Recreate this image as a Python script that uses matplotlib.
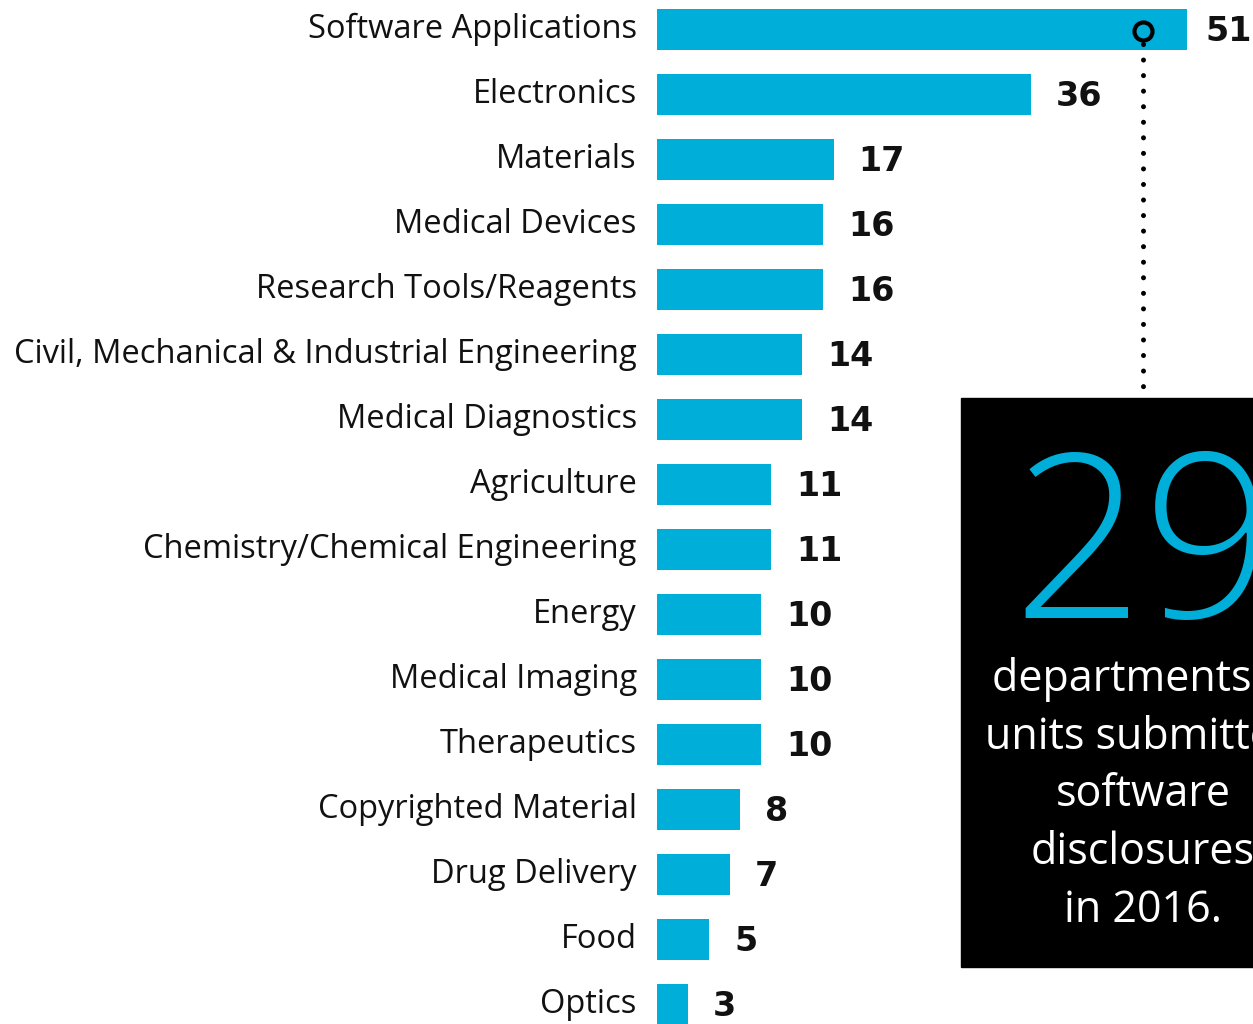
import matplotlib.pyplot as plt
from matplotlib.patches import Rectangle
from matplotlib.lines import Line2D

categories = [
    "Software Applications",
    "Electronics",
    "Materials",
    "Medical Devices",
    "Research Tools/Reagents",
    "Civil, Mechanical & Industrial Engineering",
    "Medical Diagnostics",
    "Agriculture",
    "Chemistry/Chemical Engineering",
    "Energy",
    "Medical Imaging",
    "Therapeutics",
    "Copyrighted Material",
    "Drug Delivery",
    "Food",
    "Optics",
]
values = [51, 36, 17, 16, 16, 14, 14, 11, 11, 10, 10, 10, 8, 7, 5, 3]

callout_number = "29"
callout_text = "departments &\nunits submitted\nsoftware\ndisclosures\nin 2016."

BLUE = "#00AEDA"
W, H = 1253, 1024

fig = plt.figure(figsize=(W / 100, H / 100), dpi=100)
ax = fig.add_axes([657 / W, 0, (W - 657) / W, 1])

y = list(range(len(categories)))
ax.barh(y, values, height=0.645, color=BLUE)
ax.set_xlim(0, (W - 657) / 10.39)
ax.set_ylim((1024 - 29.5) / 65.0, -29.5 / 65.0)

ax.set_yticks(y)
ax.set_yticklabels(categories, fontsize=23.5, family="Open Sans", color="#111111",
                   va="center")
ax.tick_params(axis="y", length=0, pad=14.5)
ax.set_xticks([])
for s in ax.spines.values():
    s.set_visible(False)

# value labels; the longest bar gets a tighter gap so its number fits
for i, v in enumerate(values):
    pad = 13 if v == max(values) else 18
    ax.annotate(str(v), (v, i), xytext=(pad, -1.5), textcoords="offset points",
                ha="left", va="center", fontsize=24, fontweight="bold",
                family="DejaVu Sans", color="#111111")

# callout box
fig.patches.append(Rectangle((961 / W, 1 - 967 / H), 364 / W, (967 - 398) / H,
                             transform=fig.transFigure, color="black", zorder=5))
cx = 1143 / W
fig.lines.append(Line2D([cx, cx], [1 - 44 / H, 1 - 398 / H], transform=fig.transFigure,
                        color="black", linestyle=(0, (0.01, 3.1)), linewidth=3.6,
                        dash_capstyle="round", zorder=6))
fig.lines.append(Line2D([cx], [1 - 31 / H], transform=fig.transFigure, marker="o",
                        markersize=13, markerfacecolor=BLUE, markeredgecolor="black",
                        markeredgewidth=3, zorder=7))

fig.text(cx, 1 - 559 / H, callout_number, ha="center", va="center", fontsize=165,
         color=BLUE, family="Open Sans", fontweight="light", zorder=8)
fig.text(cx, 1 - 795 / H, callout_text, ha="center", va="center", fontsize=31,
         color="white", family="Open Sans", linespacing=1.40, zorder=8)

fig.savefig("out.png", dpi=100)
